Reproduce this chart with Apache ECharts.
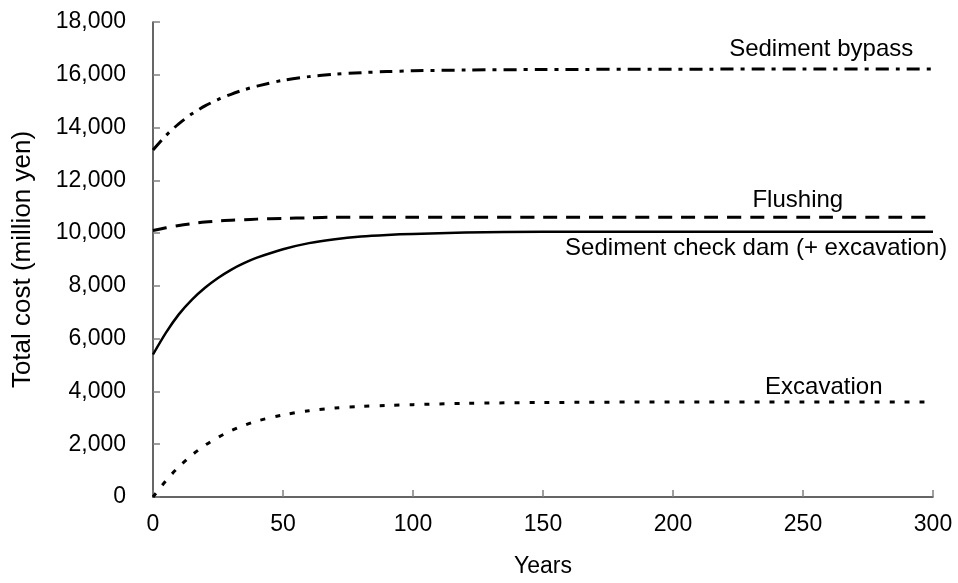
<!DOCTYPE html>
<html>
<head>
<meta charset="utf-8">
<script src="https://cdn.jsdelivr.net/npm/echarts@6/dist/echarts.min.js"></script>
<style>
  html, body { margin: 0; padding: 0; background: #fff; }
  #main { width: 958px; height: 583px; }
</style>
</head>
<body>
<div id="main"></div>
<script>
// values
var years = [0, 5, 10, 15, 20, 25, 30, 35, 40, 50, 60, 70, 80, 90, 100, 120, 150, 200, 250, 300];
var bypass = [13150, 13700, 14150, 14520, 14820, 15060, 15260, 15430, 15570, 15790, 15930, 16020, 16080, 16120, 16150, 16180, 16200, 16210, 16220, 16220];
var flushing = [10100, 10200, 10290, 10360, 10420, 10460, 10490, 10510, 10530, 10560, 10580, 10600, 10600, 10600, 10600, 10600, 10600, 10600, 10600, 10600];
var checkDam = [5400, 6230, 6930, 7480, 7930, 8300, 8610, 8860, 9070, 9390, 9620, 9770, 9870, 9930, 9970, 10020, 10050, 10050, 10050, 10050];
var excavation = [0, 620, 1150, 1590, 1960, 2260, 2510, 2710, 2880, 3110, 3270, 3370, 3430, 3470, 3500, 3550, 3580, 3600, 3600, 3600];

// label text and where it sits (data coords)
var notes = [
    { text: 'Sediment bypass', at: [257, 16960] },
    { text: 'Flushing', at: [248, 11230] },
    { text: 'Sediment check dam (+ excavation)', at: [232, 9440] },
    { text: 'Excavation', at: [258, 4170] }
];

function pairs(vals) {
    return years.map(function (y, i) { return [y, vals[i]]; });
}

function line(name, vals, type, width) {
    return {
        name: name,
        type: 'line',
        data: pairs(vals),
        smooth: 0.3,
        symbol: 'none',
        lineStyle: { color: '#000', width: width, type: type, cap: 'butt' }
    };
}

var font = 'Liberation Sans, Arial, sans-serif';

var myChart = echarts.init(document.getElementById('main')),
    option = {
        animation: false,
        grid: { left: 153, right: 25, top: 22, bottom: 86, containLabel: false, outerBoundsMode: 'none' },
        xAxis: {
            type: 'value',
            min: 0, max: 300, interval: 50,
            name: 'Years',
            nameLocation: 'middle',
            nameGap: 58,
            nameTextStyle: { fontFamily: font, fontSize: 23, color: '#000' },
            axisLine: { lineStyle: { color: '#333', width: 1.5 } },
            axisTick: { inside: true, length: 7, lineStyle: { color: '#808080', width: 1.5 } },
            axisLabel: { fontFamily: font, fontSize: 23, color: '#000', margin: 16 },
            splitLine: { show: false }
        },
        yAxis: {
            type: 'value',
            min: 0, max: 18000, interval: 2000,
            name: 'Total cost (million yen)',
            nameLocation: 'middle',
            nameGap: 117,
            nameTextStyle: { fontFamily: font, fontSize: 26, color: '#000' },
            axisLine: { show: true, lineStyle: { color: '#333', width: 1.5 } },
            axisTick: { show: true, inside: true, length: 7, lineStyle: { color: '#808080', width: 1.5 } },
            axisLabel: {
                fontFamily: font, fontSize: 23, color: '#000', margin: 27,
                formatter: function (v) { return v.toLocaleString('en-US'); }
            },
            splitLine: { show: false }
        },
        series: [
            line('Sediment bypass', bypass, [13, 7, 4, 7], 3),
            line('Flushing', flushing, [14, 9], 3),
            line('Sediment check dam (+ excavation)', checkDam, 'solid', 2.5),
            line('Excavation', excavation, [5, 10], 3)
        ]
    };

myChart.setOption(option);

myChart.setOption({
    graphic: notes.map(function (n) {
        var p = myChart.convertToPixel({ gridIndex: 0 }, n.at);
        return {
            type: 'text',
            x: p[0], y: p[1],
            style: {
                text: n.text, fill: '#000',
                font: '24px ' + font,
                align: 'center', verticalAlign: 'middle'
            }
        };
    })
});
window.addEventListener('resize', myChart.resize);
</script>
</body>
</html>
